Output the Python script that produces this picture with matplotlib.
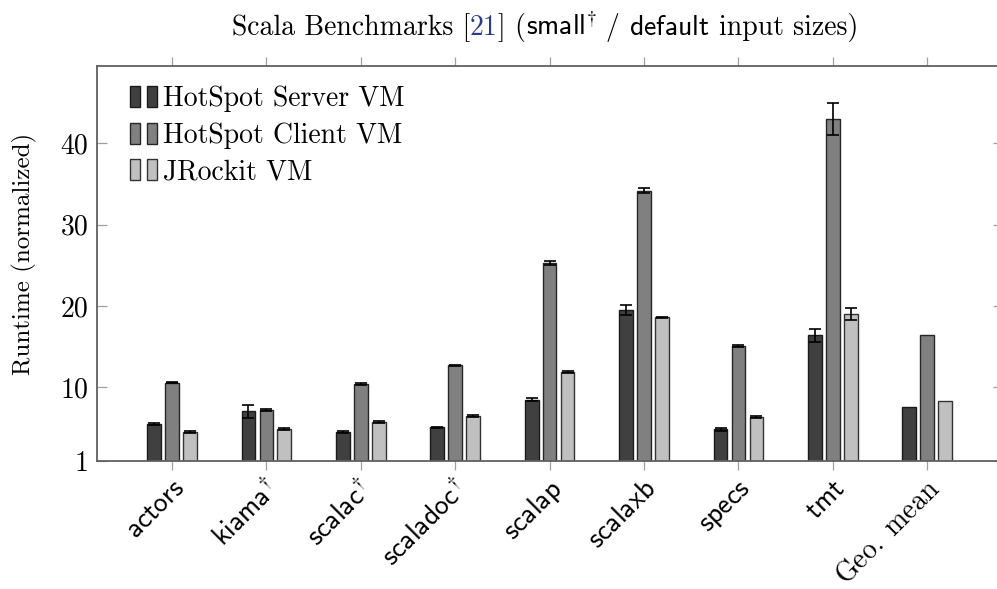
import numpy as np
import matplotlib
matplotlib.use("Agg")
import matplotlib.pyplot as plt
from matplotlib.patches import Patch
from matplotlib.legend_handler import HandlerTuple
from matplotlib.transforms import IdentityTransform, ScaledTranslation

plt.rcParams['mathtext.fontset'] = 'cm'
plt.rcParams['font.family'] = ['cmr10', 'DejaVu Serif']
plt.rcParams['axes.formatter.use_mathtext'] = True

# ---------------- data ----------------
benchmarks = [r"$\mathsf{actors}$", r"$\mathsf{kiama}^{\dagger}$", r"$\mathsf{scalac}^{\dagger}$",
              r"$\mathsf{scaladoc}^{\dagger}$", r"$\mathsf{scalap}$", r"$\mathsf{scalaxb}$",
              r"$\mathsf{specs}$", r"$\mathsf{tmt}$", r"$\mathrm{Geo.\ mean}$"]
series_names = ["HotSpot Server VM", "HotSpot Client VM", "JRockit VM"]
server = [5.5, 7.1, 4.5, 5.1, 8.5, 19.5, 4.85, 16.4, 7.65]
client = [10.6, 7.2, 10.4, 12.7, 25.3, 34.2, 15.1, 43.0, 16.5]
jrockit = [4.5, 4.9, 5.75, 6.5, 11.9, 18.6, 6.4, 19.05, 8.3]
server_err = [0.15, 0.8, 0.1, 0.1, 0.15, 0.6, 0.15, 0.8]
client_err = [0.1, 0.1, 0.1, 0.1, 0.3, 0.3, 0.1, 2.0]
jrockit_err = [0.1, 0.1, 0.1, 0.1, 0.1, 0.1, 0.1, 0.7]
yticks = [1, 10, 20, 30, 40]

# ---------------- figure ----------------
W, H = 997, 589
fig = plt.figure(figsize=(W / 100, H / 100), dpi=100)
ax_l, ax_r, ax_t, ax_b = 97.3, 1002.8, 66.0, 460.7
ax = fig.add_axes([ax_l / W, (H - ax_b) / H, (ax_r - ax_l) / W, (ax_b - ax_t) / H])

FS = 20
FS_Y = 18
colors = ['#404040', '#808080', '#c0c0c0']
edges = ['#1a1a1a', '#262626', '#333333']
offsets = [-0.19, 0.0, 0.19]
bw = 0.145
x = np.arange(len(benchmarks))
nerr = len(server_err)
for vals, errs, c, e, off in zip([server, client, jrockit],
                                  [server_err, client_err, jrockit_err],
                                  colors, edges, offsets):
    ax.bar(x + off, vals, width=bw, color=c, edgecolor=e, linewidth=1.0, zorder=2)
    ax.errorbar(x[:nerr] + off, vals[:nerr], yerr=errs, fmt='none', ecolor='black',
                elinewidth=1.2, capsize=4.0, capthick=1.2, zorder=3)

ax.set_xlim(-0.791, 8.80)
ax.set_ylim(1, 49.5)

for s in ax.spines.values():
    s.set_color('#606060')
    s.set_linewidth(1.3)

ax.set_xticks(x)
ax.set_xticklabels(benchmarks, fontsize=FS, rotation=45, ha='right', va='center',
                   rotation_mode='anchor')
ax.tick_params(axis='x', direction='out', length=6.3, width=0.9, color='#a0a0a0',
               top=True, bottom=True, labeltop=False, pad=4)
shift = ScaledTranslation(6 / 72, -7 / 72, fig.dpi_scale_trans)
for lab in ax.get_xticklabels():
    lab.set_transform(lab.get_transform() + shift)

ax.set_yticks(yticks)
ax.set_yticklabels([str(v) for v in yticks], fontsize=FS)
ax.tick_params(axis='y', direction='in', length=7, width=0.9, color='#a0a0a0',
               left=True, right=True, pad=6.5)

ax.set_ylabel("Runtime (normalized)", fontsize=FS_Y)
ax.yaxis.set_label_coords((37 - ax_l) / (ax_r - ax_l), (ax_b - 254) / (ax_b - ax_t))

handles = [(Patch(facecolor=c, edgecolor=e, linewidth=1.0),
            Patch(facecolor=c, edgecolor=e, linewidth=1.0)) for c, e in zip(colors, edges)]
ax.legend(handles, series_names, handler_map={tuple: HandlerTuple(ndivide=None, pad=0.26)},
          loc='upper left', bbox_to_anchor=((130 - ax_l) / (ax_r - ax_l), (ax_b - 86) / (ax_b - ax_t)),
          borderaxespad=0, borderpad=0, frameon=False, fontsize=FS,
          handlelength=0.98, handleheight=0.78, handletextpad=0.22, labelspacing=0.36)

# ---------------- title with mixed fonts ----------------
renderer = fig.canvas.get_renderer()
space = FS * 100 / 72 * 0.333
pieces = [("Scala Benchmarks [", 'black', 0), ("21", '#2b3990', 0), ("]", 'black', space),
          ("(", 'black', 0), (r"$\mathsf{small}^{\dagger}$", 'black', space),
          ("/", 'black', space), (r"$\mathsf{default}$", 'black', space),
          ("input sizes)", 'black', 0)]
title_y = H - 35
texts, widths = [], []
for s, col, gap in pieces:
    t = fig.text(0, title_y, s, fontsize=FS, color=col, ha='left', va='baseline',
                 transform=IdentityTransform())
    texts.append(t)
    widths.append(t.get_window_extent(renderer).width)
total = sum(widths) + sum(p[2] for p in pieces)
xc = 545
xpos = xc - total / 2
for t, w, p in zip(texts, widths, pieces):
    t.set_x(xpos)
    xpos += w + p[2]

fig.savefig("out.png", dpi=100)
